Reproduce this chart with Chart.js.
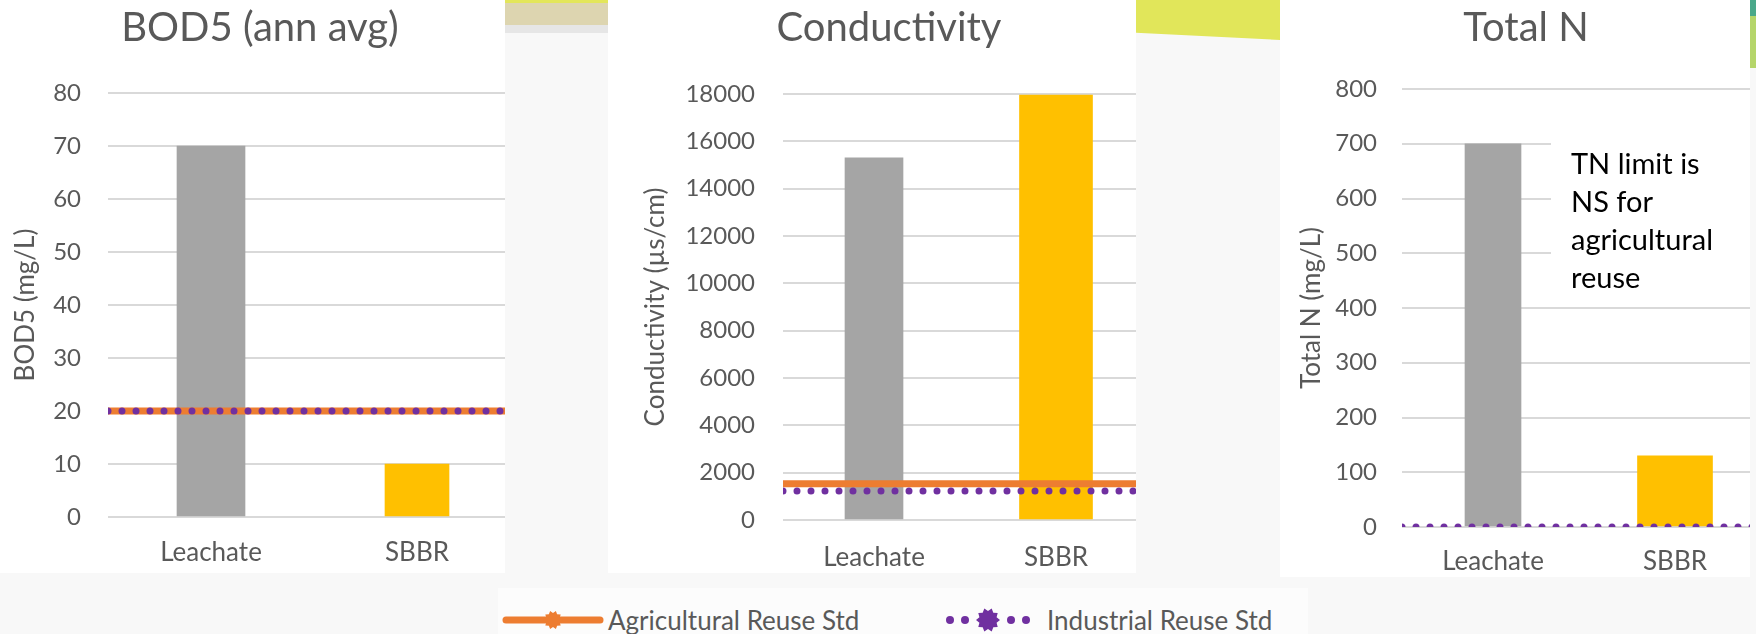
<!DOCTYPE html>
<html lang="en">
<head>
    <meta charset="UTF-8">
    <title>Leachate vs SBBR - reuse standards</title>
    <style>
        body { margin: 0; width: 1756px; height: 634px; background: #f8f8f8; position: relative; overflow: hidden; font-family: Lato, "Open Sans", sans-serif; }
        .panel { position: absolute; top: 0; background: #fff; overflow: hidden; }
        .panel canvas { position: absolute; left: 0; top: 0; }
        #p1 { left: 0; width: 505px; height: 573px; }
        #p2 { left: 608px; width: 528px; height: 573px; }
        #p3 { left: 1280px; width: 470px; height: 577px; }
        .note { position: absolute; left: 271px; top: 128px; width: 179px; height: 149px; padding: 16px 0 0 20px; background: #fff; color: #000; font-size: 29px; line-height: 38px; }
        .deco { position: absolute; top: 0; }
        #legendBox { position: absolute; left: 498px; top: 588px; width: 810px; height: 46px; background: #fcfcfc; }
        .lg { position: absolute; top: 605px; }
        .lgText { position: absolute; top: 605px; font-size: 26px; line-height: 30px; color: #595959; white-space: nowrap; }
    </style>
</head>
<body>
    <!-- slide decorations -->
    <div class="deco" style="left:505px; width:103px; height:34px; background:linear-gradient(to bottom, #e3e65a 0 3px, #ddd5b0 3px 25px, #e6e6e6 25px 33px, transparent 33px);"></div>
    <div class="deco" style="left:1136px; width:144px; height:40px; background:#e1e65a; clip-path:polygon(0 0, 100% 0, 100% 100%, 0 82%);"></div>
    <div class="deco" style="left:1750px; width:6px; height:16px; background:#4aa88a;"></div>
    <div class="deco" style="left:1750px; top:16px; width:6px; height:52px; background:#b5d56a;"></div>

    <div class="panel" id="p1"><canvas id="bodChart" width="530" height="573"></canvas></div>
    <div class="panel" id="p2"><canvas id="condChart" width="549" height="573"></canvas></div>
    <div class="panel" id="p3">
        <canvas id="tnChart" width="496" height="577"></canvas>
        <div class="note">TN limit is<br>NS for<br>agricultural<br>reuse</div>
    </div>

    <!-- shared legend -->
    <div id="legendBox"></div>
    <svg class="lg" id="lgAgri" width="105" height="30" style="left:500px"></svg>
    <span class="lgText" style="left:608px">Agricultural Reuse Std</span>
    <svg class="lg" id="lgInd" width="95" height="30" style="left:940px"></svg>
    <span class="lgText" style="left:1047px">Industrial Reuse Std</span>

    <script src="https://cdn.jsdelivr.net/npm/chart.js"></script>
    <script>
        // data
        const categories = ['Leachate', 'SBBR'];
        const bodValues = [70, 10];
        const condValues = [15300, 17950];
        const tnValues = [700, 130];
        const stdNames = ['Agricultural Reuse Std', 'Industrial Reuse Std'];
        const agriStd = [20, 1530, null];   // BOD5, Conductivity, Total N (NS)
        const indStd = [20, 1230, 0];
        const yMax = [80, 18000, 800];
        const yStep = [10, 2000, 100];

        const barColors = ['#A5A5A5', '#FFC000'];
        const agriColor = '#ED7D31';
        const indColor = '#7030A0';
        const textGray = '#595959';

        Chart.defaults.font.family = 'Lato, "Open Sans", sans-serif';
        const titleSize = 40, tickSize = 24, xLabelSize = 26, yTitleSize = 26;

        function makeChart(id, o) {
            const datasets = categories.map((c, i) => ({
                type: 'bar',
                label: c,
                data: o.values.map((v, j) => (j === i ? v : null)),
                backgroundColor: barColors[i],
                barThickness: o.barWidths[i],
                grouped: false,
                order: 2
            }));
            if (o.agri !== null) {
                datasets.push({
                    type: 'line', label: stdNames[0], xAxisID: 'x2',
                    data: [{ x: 0, y: o.agri }, { x: 1, y: o.agri }],
                    borderColor: agriColor, borderWidth: 7, borderCapStyle: 'butt',
                    pointRadius: 0, tension: 0, order: 1
                });
            }
            if (o.ind !== null) {
                datasets.push({
                    type: 'line', label: stdNames[1], xAxisID: 'x2',
                    data: [{ x: 0, y: o.ind }, { x: 1, y: o.ind }],
                    borderColor: indColor, borderWidth: 7, borderCapStyle: 'round',
                    borderDash: [0, 14], pointRadius: 0, tension: 0, order: 0
                });
            }
            return new Chart(document.getElementById(id), {
                type: 'bar',
                data: { labels: categories, datasets: datasets },
                options: {
                    responsive: false,
                    animation: false,
                    devicePixelRatio: 1,
                    layout: { padding: { left: o.padL, right: o.padR, top: 0, bottom: 0 } },
                    plugins: {
                        legend: { display: false },
                        tooltip: { enabled: false },
                        title: {
                            display: true, text: o.title, color: textGray,
                            font: { size: titleSize, weight: 'normal' },
                            padding: { top: 28 - titleSize * 0.6, bottom: o.plotTop - 28 - titleSize * 0.6 }
                        }
                    },
                    scales: {
                        x: {
                            type: 'category', offset: true,
                            grid: { display: false, drawTicks: false },
                            border: { display: false },
                            ticks: { color: textGray, font: { size: xLabelSize }, padding: o.xLabelCenter - xLabelSize * 0.6 },
                            afterFit: s => { s.height = o.xHeight; }
                        },
                        x2: { type: 'linear', display: false, offset: false, grid: { offset: false }, min: 0, max: 1 },
                        y: {
                            min: 0, max: o.max,
                            ticks: { stepSize: o.step, color: textGray, font: { size: tickSize }, padding: o.tickPad, callback: v => String(v) },
                            grid: { color: '#d9d9d9', lineWidth: 2, drawTicks: false },
                            border: { display: false },
                            title: {
                                display: true, text: o.yTitle, color: textGray,
                                font: { size: yTitleSize },
                                padding: { top: o.yTitleCenter - yTitleSize * 0.6, bottom: 0 }
                            },
                            afterFit: s => { s.width = o.yWidth; }
                        }
                    }
                }
            });
        }

        makeChart('bodChart', {
            title: 'BOD5 (ann avg)', yTitle: 'BOD5 (mg/L)',
            values: bodValues, agri: agriStd[0], ind: indStd[0], max: yMax[0], step: yStep[0],
            padL: 0, padR: 10, yWidth: 108, tickPad: 27, yTitleCenter: 26,
            plotTop: 93, xHeight: 56, xLabelCenter: 36, barWidths: [68, 64]
        });
        makeChart('condChart', {
            title: 'Conductivity', yTitle: 'Conductivity (µs/cm)',
            values: condValues, agri: agriStd[1], ind: indStd[1], max: yMax[1], step: yStep[1],
            padL: 23, padR: 10, yWidth: 152, tickPad: 28, yTitleCenter: 25,
            plotTop: 94, xHeight: 53, xLabelCenter: 38, barWidths: [58, 73]
        });
        makeChart('tnChart', {
            title: 'Total N', yTitle: 'Total N (mg/L)',
            values: tnValues, agri: agriStd[2], ind: indStd[2], max: yMax[2], step: yStep[2],
            padL: 6, padR: 10, yWidth: 116, tickPad: 25, yTitleCenter: 26,
            plotTop: 89, xHeight: 50, xLabelCenter: 35, barWidths: [56, 75]
        });

        // legend symbols
        const SVGNS = 'http://www.w3.org/2000/svg';
        function burst(cx, cy, rOut, rIn, n) {
            const pts = [];
            for (let k = 0; k < 2 * n; k++) {
                const r = k % 2 ? rIn : rOut;
                const a = Math.PI * k / n;
                pts.push((cx + r * Math.cos(a)).toFixed(1) + ',' + (cy + r * Math.sin(a)).toFixed(1));
            }
            const p = document.createElementNS(SVGNS, 'polygon');
            p.setAttribute('points', pts.join(' '));
            return p;
        }
        const lgAgri = document.getElementById('lgAgri');
        const ln = document.createElementNS(SVGNS, 'line');
        ln.setAttribute('x1', 6); ln.setAttribute('x2', 100); ln.setAttribute('y1', 15); ln.setAttribute('y2', 15);
        ln.setAttribute('stroke', agriColor); ln.setAttribute('stroke-width', 7); ln.setAttribute('stroke-linecap', 'round');
        lgAgri.appendChild(ln);
        const s1 = burst(53, 15, 9.5, 7, 10);
        s1.setAttribute('fill', agriColor);
        lgAgri.appendChild(s1);

        const lgInd = document.getElementById('lgInd');
        [10, 25, 71, 86].forEach(x => {
            const c = document.createElementNS(SVGNS, 'circle');
            c.setAttribute('cx', x); c.setAttribute('cy', 15); c.setAttribute('r', 4);
            c.setAttribute('fill', indColor);
            lgInd.appendChild(c);
        });
        const s2 = burst(48, 15, 12, 9, 10);
        s2.setAttribute('fill', indColor);
        lgInd.appendChild(s2);
    </script>
</body>
</html>
